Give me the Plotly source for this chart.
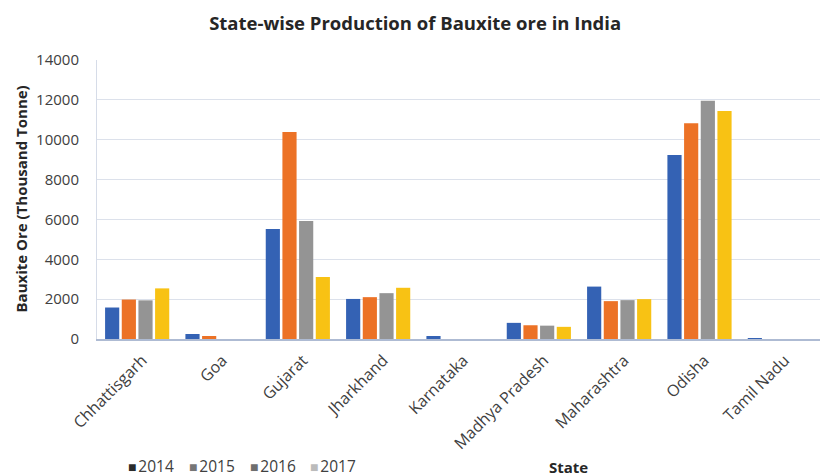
import plotly.graph_objects as go

states = ["Chhattisgarh", "Goa", "Gujarat", "Jharkhand", "Karnataka",
          "Madhya Pradesh", "Maharashtra", "Odisha", "Tamil Nadu"]
years = ["2014", "2015", "2016", "2017"]
v2014 = [1580, 250, 5520, 2010, 150, 810, 2630, 9230, 50]
v2015 = [1980, 150, 10390, 2100, 0, 690, 1900, 10820, 0]
v2016 = [1940, 0, 5920, 2300, 0, 670, 1950, 11960, 0]
v2017 = [2540, 0, 3110, 2570, 0, 610, 2000, 11440, 0]
series = [v2014, v2015, v2016, v2017]
bar_colors = ["#3462B4", "#EC7226", "#949494", "#F8C214"]
legend_colors = ["#2B2B2B", "#767676", "#6E6E6E", "#BBBBBB"]

FONT = "Open Sans"
fig = go.Figure()
for yr, vals, col in zip(years, series, bar_colors):
    fig.add_trace(go.Bar(x=states, y=vals, name=yr, marker_color=col,
                         marker_line_width=0, showlegend=False))

L, R, T, B = 97, 2, 60, 137
PW, PH = 822 - L - R, 476 - T - B

annotations = [
    dict(text="<b>Bauxite Ore (Thousand Tonne)</b>", xref="paper", yref="paper",
         x=-(97 - 20) / PW, y=0.5, xanchor="center", yanchor="middle", textangle=-90,
         showarrow=False, font=dict(size=15, color="#262626", family=FONT)),
    dict(text="<b>State</b>", xref="paper", yref="paper",
         x=(568 - L) / PW, y=-(467 - 339) / PH, xanchor="center", yanchor="middle",
         showarrow=False, font=dict(size=15, color="#262626", family=FONT)),
]
# legend drawn as text entries
leg_x = [127, 188, 249, 309]
for yr, col, px in zip(years, legend_colors, leg_x):
    annotations.append(dict(
        text=f"<span style='color:{col};font-size:14px'>■</span><span style='font-size:7px'> </span>{yr}",
        xref="paper", yref="paper",
        x=(px - L) / PW, y=-(466 - 339) / PH, xanchor="left", yanchor="middle",
        borderpad=0, showarrow=False,
        font=dict(size=15.5, color="#404040", family=FONT)))

fig.update_layout(
    width=822, height=476,
    margin=dict(l=L, r=R, t=T, b=B, autoexpand=False),
    paper_bgcolor="white", plot_bgcolor="white",
    barmode="group", bargap=0.17, bargroupgap=0.15,
    font=dict(family=FONT, color="#404040", size=14),
    showlegend=False,
    title=dict(text="<b>State-wise Production of Bauxite ore in India</b>",
               x=0.505, xanchor="center", y=0.95, yanchor="middle",
               font=dict(size=18.5, color="#262626", family=FONT)),
    xaxis=dict(tickangle=-45, showline=True, linecolor="#AEBBD3", linewidth=1.5,
               ticks="", tickfont=dict(size=16, color="#404040"), showgrid=False,
               automargin=False, ticklabelshift=5, ticklabelstandoff=4),
    yaxis=dict(range=[0, 14000], dtick=2000, tickformat="d", showgrid=True,
               gridcolor="#DCE1EB", gridwidth=1, showline=True, linecolor="#D6DCE8",
               ticks="", tickfont=dict(size=15, color="#404040"), zeroline=False,
               ticklabelstandoff=14, automargin=False),
    annotations=annotations,
)
fig.write_html("out.html")
